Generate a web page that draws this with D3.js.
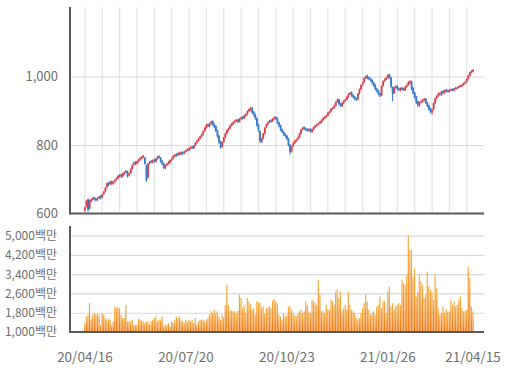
<!DOCTYPE html>
<html>
<head>
<meta charset="utf-8">
<script src="https://cdn.jsdelivr.net/npm/d3@7/dist/d3.min.js"></script>
<style>
  body { margin: 0; background: #fff; }
  text { font-family: "Noto Sans CJK KR", "Noto Sans", sans-serif; fill: #707070; }
</style>
</head>
<body>
<div id="chart"></div>
<script>
// trading days (yy/mm/dd)
var dates = [
  "20/04/16","20/04/17","20/04/20","20/04/21","20/04/22","20/04/23","20/04/24","20/04/27","20/04/28","20/04/29",
  "20/05/04","20/05/06","20/05/07","20/05/08","20/05/11","20/05/12","20/05/13","20/05/14","20/05/15","20/05/18",
  "20/05/19","20/05/20","20/05/21","20/05/22","20/05/25","20/05/26","20/05/27","20/05/28","20/05/29",
  "20/06/01","20/06/02","20/06/03","20/06/04","20/06/05","20/06/08","20/06/09","20/06/10","20/06/11","20/06/12",
  "20/06/15","20/06/16","20/06/17","20/06/18","20/06/19","20/06/22","20/06/23","20/06/24","20/06/25","20/06/26",
  "20/06/29","20/06/30",
  "20/07/01","20/07/02","20/07/03","20/07/06","20/07/07","20/07/08","20/07/09","20/07/10","20/07/13","20/07/14",
  "20/07/15","20/07/16","20/07/17","20/07/20","20/07/21","20/07/22","20/07/23","20/07/24","20/07/27","20/07/28",
  "20/07/29","20/07/30","20/07/31",
  "20/08/03","20/08/04","20/08/05","20/08/06","20/08/07","20/08/10","20/08/11","20/08/12","20/08/13","20/08/14",
  "20/08/18","20/08/19","20/08/20","20/08/21","20/08/24","20/08/25","20/08/26","20/08/27","20/08/28","20/08/31",
  "20/09/01","20/09/02","20/09/03","20/09/04","20/09/07","20/09/08","20/09/09","20/09/10","20/09/11","20/09/14",
  "20/09/15","20/09/16","20/09/17","20/09/18","20/09/21","20/09/22","20/09/23","20/09/24","20/09/25","20/09/28",
  "20/09/29",
  "20/10/05","20/10/06","20/10/07","20/10/08","20/10/12","20/10/13","20/10/14","20/10/15","20/10/16","20/10/19",
  "20/10/20","20/10/21","20/10/22","20/10/23","20/10/26","20/10/27","20/10/28","20/10/29","20/10/30",
  "20/11/02","20/11/03","20/11/04","20/11/05","20/11/06","20/11/09","20/11/10","20/11/11","20/11/12","20/11/13",
  "20/11/16","20/11/17","20/11/18","20/11/19","20/11/20","20/11/23","20/11/24","20/11/25","20/11/26","20/11/27",
  "20/11/30",
  "20/12/01","20/12/02","20/12/03","20/12/04","20/12/07","20/12/08","20/12/09","20/12/10","20/12/11","20/12/14",
  "20/12/15","20/12/16","20/12/17","20/12/18","20/12/21","20/12/22","20/12/23","20/12/24","20/12/28","20/12/29",
  "20/12/30",
  "21/01/04","21/01/05","21/01/06","21/01/07","21/01/08","21/01/11","21/01/12","21/01/13","21/01/14","21/01/15",
  "21/01/18","21/01/19","21/01/20","21/01/21","21/01/22","21/01/25","21/01/26","21/01/27","21/01/28","21/01/29",
  "21/02/01","21/02/02","21/02/03","21/02/04","21/02/05","21/02/08","21/02/09","21/02/10","21/02/15","21/02/16",
  "21/02/17","21/02/18","21/02/19","21/02/22","21/02/23","21/02/24","21/02/25","21/02/26",
  "21/03/02","21/03/03","21/03/04","21/03/05","21/03/08","21/03/09","21/03/10","21/03/11","21/03/12","21/03/15",
  "21/03/16","21/03/17","21/03/18","21/03/19","21/03/22","21/03/23","21/03/24","21/03/25","21/03/26","21/03/29",
  "21/03/30","21/03/31",
  "21/04/01","21/04/02","21/04/05","21/04/06","21/04/07","21/04/08","21/04/09","21/04/12","21/04/13","21/04/14",
  "21/04/15"
];

var opens = [
  609,620,641,615,636,643,647,643,640,646, 652,648,658,665,677,690,686,694,687,694,
  699,704,709,714,709,716,724,723,712,718, 731,743,750,746,753,758,761,766,763,741,
  705,748,753,750,757,752,761,768,763,753, 746,733,743,746,749,757,761,767,773,771,
  777,773,779,776,781,787,785,791,795,791, 799,807,813,819,825,831,842,851,860,855,
  863,870,861,855,843,827,810,795,809,823, 834,845,849,857,861,867,871,874,869,877,
  882,879,887,890,899,903,909,897,889,878, 860,840,809,819,834,852,861,867,872,870,
  877,882,878,866,857,846,839,831,827,819, 801,782,797,806,813,817,823,834,846,852,
  848,846,842,847,839,846,853,857,861,864, 867,873,879,884,886,894,898,907,909,916,
  926,933,921,914,923,929,933,941,949,954, 946,941,936,934,951,963,977,984,996,1002,
  997,994,990,983,976,965,959,951,944,973, 987,993,997,1006,997,969,952,969,972,965,
  960,967,964,961,971,976,981,986,967,953, 942,928,915,925,928,931,935,925,916,907,
  896,905,923,937,944,951,947,957,953,961, 959,956,961,963,960,967,965,969,972,974,
  976,981,985,994,1004,1013,1015
];

var highs = [
  620,640,644,641,644,648,649,646,647,652, 654,658,666,677,690,693,695,697,695,700,
  706,712,715,717,719,723,727,725,719,732, 743,751,753,754,759,764,768,771,765,742,
  747,753,756,758,760,762,768,770,765,756, 748,743,748,753,758,763,770,774,776,779,
  780,781,782,783,787,790,793,796,798,800, 809,815,821,827,833,843,853,861,863,865,
  871,872,864,857,845,829,812,810,824,836, 846,851,859,865,869,873,876,877,879,883,
  885,889,892,901,907,910,911,899,891,880, 862,842,821,835,852,863,869,873,875,879,
  883,884,880,868,859,848,841,834,829,821, 803,798,808,815,818,825,836,847,853,854,
  851,849,849,849,848,855,859,863,866,871, 875,881,885,888,896,900,908,911,918,928,
  935,935,923,925,931,935,943,951,955,956, 948,943,938,952,965,977,985,998,1004,1005,
  1000,997,992,985,978,967,961,953,974,988, 995,999,1007,1008,999,971,971,974,975,968,
  968,970,967,972,978,986,989,988,969,955, 944,930,927,931,934,937,937,927,918,909,
  906,924,938,946,953,954,958,960,962,964, 962,963,965,966,967,970,971,974,976,978,
  983,986,995,1005,1014,1019,1022
];

var lows = [
  606,618,605,612,633,639,638,635,637,642, 641,646,655,663,674,680,683,684,684,690,
  696,701,706,704,706,713,718,705,708,715, 728,740,741,743,749,754,758,762,742,692,
  703,743,747,746,749,749,757,760,749,741, 729,730,739,743,746,753,758,764,766,768,
  769,770,771,773,778,782,782,788,788,788, 796,804,810,816,822,828,839,848,852,852,
  860,856,849,838,821,803,789,792,806,820, 831,841,846,854,858,864,868,864,866,874,
  874,876,883,887,896,900,891,884,874,854, 838,806,806,816,831,849,858,864,865,867,
  874,873,861,852,841,834,826,822,814,796, 772,778,794,803,809,814,820,831,843,843,
  841,839,839,836,836,843,850,854,858,861, 864,870,876,880,883,891,895,903,906,913,
  923,916,911,911,920,926,930,938,946,941, 936,931,928,931,948,960,974,981,993,992,
  989,985,977,970,959,953,945,940,942,970, 984,990,994,993,966,928,949,965,960,957,
  957,959,958,958,968,973,978,960,947,935, 920,912,912,921,924,927,920,911,900,893,
  889,902,920,934,941,944,944,948,950,954, 953,953,958,957,957,962,962,966,969,971,
  973,978,982,991,1001,1010,1012
];

var closes = [
  618,638,612,639,641,645,642,639,644,649, 645,656,663,675,688,684,692,688,692,697,
  703,710,712,708,717,720,722,710,716,730, 741,748,745,752,756,762,766,768,745,697,
  746,749,751,755,753,760,766,764,752,745, 733,741,745,750,756,760,768,771,770,776,
  772,778,775,780,784,786,790,793,792,798, 806,812,818,824,830,840,850,858,856,862,
  868,860,853,842,826,808,793,808,822,833, 843,848,856,862,866,870,873,868,876,880,
  878,886,889,898,904,907,895,888,878,858, 842,812,818,833,850,860,866,870,869,876,
  880,877,865,856,845,838,830,826,818,800, 780,796,805,812,815,822,833,845,850,847,
  845,843,846,840,845,852,856,860,863,868, 872,878,882,885,893,897,905,908,915,925,
  932,920,915,922,928,932,940,948,952,945, 940,935,932,950,962,975,982,995,1000,996,
  993,989,982,975,964,958,950,945,972,986, 992,996,1004,998,971,950,968,970,964,961,
  965,963,962,970,975,983,985,965,952,940, 925,917,924,927,930,934,924,915,905,898,
  903,922,936,943,950,948,956,952,960,958, 957,960,962,961,965,966,968,971,973,975,
  980,983,993,1003,1012,1016,1019
];

// volume, 백만
var volumes = [
  1370,1650,1720,2200,1510,1720,1790,1750,1750,1720, 1300,1790,1720,1580,1510,1550,1510,1300,1440,2060,
  1990,2020,1990,1720,1580,1580,2130,1440,1440,1440, 1510,1300,1300,1300,1550,1510,1480,1440,1370,1440,
  1440,1300,1440,1510,1580,1650,1440,1510,1510,1650, 1230,1300,1300,1370,1230,1440,1370,1510,1650,1580,
  1650,1510,1440,1380,1510,1440,1510,1440,1510,1370, 1580,1300,1440,1510,1510,1510,1440,1510,1580,1720,
  1860,1790,1920,1790,1860,1650,1510,1720,1600,2130, 2960,2130,1920,1880,1860,1860,1790,1880,2550,2410,
  1990,2130,1790,2410,2270,2150,1920,1990,1720,2270, 2240,2200,1990,2060,1790,1990,2020,2060,1990,2300,
  2380,2270,2200,
  1720,1650,1510,1790,1650,1720,2060,2060,1920,1790,1700,
  1650,1750,1860,1920,1790,1860,2270,2130,1860,1790,
  2340,2270,2200,2130,3170,2550,1860,1860,1790,2130,1950,
  1920,2340,2270,2130,2680,2750,2400,2680,1860,1990,2130,
  1920,2680,2130,1920,1860,1790,1580,1510,1580,1790,
  1990,2200,2550,2270,1920,1720,1790,1880,1720,2060,2130,
  2480,1990,2270,2300,1790,2680,2890,2060,2200,1920,2060,
  2130,2200,2130,3170,3030,2960,3370,5030,4410,4410,
  3300,3650,2480,2680,3370,3100,2960,2410,2550,3510,2890,
  2750,2680,2340,3370,2820,1990,1720,1790,2060,1790,1950,
  1860,1860,2340,2130,2270,2060,2130,2340,2480,1990,
  1860,1860,1920,3720,3240,2060,1860
];

var priceTicks = [600, 800, 1000];
var volumeTicks = [1000, 1800, 2600, 3400, 4200, 5000];
var dateTicks = ["20/04/16", "20/07/20", "20/10/23", "21/01/26", "21/04/15"];

var upColor = "#df3f4c";
var downColor = "#3a7ccc";

var svgWidth = 512;
var svgHeight = 381;

var plotLeft = 70;
var plotRight = 484;
var priceTop = 7, priceBottom = 213.5;
var volTop = 226, volBottom = 332;

var svg = d3.select('#chart').append('svg')
    .attr('width', svgWidth)
    .attr('height', svgHeight);

var defs = svg.append('defs');
var grad = defs.append('linearGradient')
    .attr('id', 'volGrad')
    .attr('x1', 0).attr('y1', 0).attr('x2', 0).attr('y2', 1);
grad.append('stop').attr('offset', '0%').attr('stop-color', '#f7b146');
grad.append('stop').attr('offset', '100%').attr('stop-color', '#ee7410');

var x = d3.scaleBand()
    .domain(dates)
    .range([84.2, 473.8])
    .paddingInner(0.1);

var yPrice = d3.scaleLinear()
    .domain([600, 1200])
    .range([priceBottom, 8]);

var yVol = d3.scaleLinear()
    .domain([1000, 5400])
    .range([volBottom, volTop]);

var cx = function(d) { return x(d) + x.bandwidth() / 2; };

// vertical grid, every 11 sessions
var gridDates = dates.filter(function(d, i) { return i % 11 === 0; });
svg.append('g')
    .attr('transform', 'translate(0,' + priceBottom + ')')
    .call(d3.axisBottom(x).tickValues(gridDates).tickSize(-(priceBottom - priceTop)).tickFormat(''))
    .call(function(g) {
        g.select('.domain').remove();
        g.selectAll('line').attr('stroke', '#e4e4e4').attr('stroke-width', 1.2);
    });

// horizontal price grid
svg.append('g')
    .attr('transform', 'translate(' + plotLeft + ',0)')
    .call(d3.axisLeft(yPrice).tickValues(priceTicks.slice(1)).tickSize(-(plotRight - plotLeft)).tickFormat(''))
    .call(function(g) {
        g.select('.domain').remove();
        g.selectAll('line').attr('stroke', '#d9d9d9').attr('stroke-width', 1.2);
    });

// price labels
svg.append('g')
    .attr('transform', 'translate(' + plotLeft + ',0)')
    .call(d3.axisLeft(yPrice).tickValues(priceTicks).tickSize(0).tickPadding(12).tickFormat(d3.format(',')))
    .call(function(g) {
        g.select('.domain').remove();
        g.selectAll('text').style('font-size', '13px').attr('fill', '#707070');
    });

// candles
var candles = svg.append('g').selectAll('g')
    .data(dates)
    .enter()
    .append('g');

candles.append('line')
    .attr('x1', function(d) { return cx(d); })
    .attr('x2', function(d) { return cx(d); })
    .attr('y1', function(d, i) { return yPrice(highs[i]); })
    .attr('y2', function(d, i) { return yPrice(lows[i]); })
    .attr('stroke', function(d, i) { return closes[i] >= opens[i] ? upColor : downColor; })
    .attr('stroke-width', 1.1);

candles.append('rect')
    .attr('x', function(d) { return x(d) - 0.2; })
    .attr('width', x.bandwidth() + 0.4)
    .attr('y', function(d, i) { return yPrice(Math.max(opens[i], closes[i])); })
    .attr('height', function(d, i) {
        return Math.max(1.2, Math.abs(yPrice(opens[i]) - yPrice(closes[i])));
    })
    .attr('fill', function(d, i) { return closes[i] >= opens[i] ? upColor : downColor; });

// price frame
svg.append('line')
    .attr('x1', plotLeft).attr('x2', plotLeft)
    .attr('y1', priceTop).attr('y2', priceBottom + 1)
    .attr('stroke', '#5a5a5a').attr('stroke-width', 2);
svg.append('line')
    .attr('x1', plotLeft).attr('x2', plotRight)
    .attr('y1', priceBottom).attr('y2', priceBottom)
    .attr('stroke', '#5a5a5a').attr('stroke-width', 2);

// volume grid
svg.append('g')
    .attr('transform', 'translate(' + plotLeft + ',0)')
    .call(d3.axisLeft(yVol).tickValues(volumeTicks.slice(1)).tickSize(-(plotRight - plotLeft)).tickFormat(''))
    .call(function(g) {
        g.select('.domain').remove();
        g.selectAll('line').attr('stroke', '#d9d9d9').attr('stroke-width', 1.2);
    });

// volume labels
svg.append('g')
    .attr('transform', 'translate(' + plotLeft + ',0)')
    .call(d3.axisLeft(yVol).tickValues(volumeTicks).tickSize(0).tickPadding(13)
        .tickFormat(function(d) { return d3.format(',')(d) + '백만'; }))
    .call(function(g) {
        g.select('.domain').remove();
        g.selectAll('text').style('font-size', '12px').attr('fill', '#707070');
    });

// volume bars
svg.append('g').selectAll('rect')
    .data(dates)
    .enter()
    .append('rect')
    .attr('x', function(d) { return x(d); })
    .attr('width', x.bandwidth() * 0.85)
    .attr('y', function(d, i) { return yVol(volumes[i]); })
    .attr('height', function(d, i) { return volBottom - yVol(volumes[i]); })
    .attr('fill', 'url(#volGrad)');

// volume frame
svg.append('line')
    .attr('x1', plotLeft).attr('x2', plotLeft)
    .attr('y1', volTop).attr('y2', volBottom + 1)
    .attr('stroke', '#5a5a5a').attr('stroke-width', 2);
svg.append('line')
    .attr('x1', plotLeft).attr('x2', plotRight)
    .attr('y1', volBottom).attr('y2', volBottom)
    .attr('stroke', '#5a5a5a').attr('stroke-width', 2);

// date labels
svg.append('g').selectAll('text')
    .data(dateTicks)
    .enter()
    .append('text')
    .attr('x', function(d) { return cx(d); })
    .attr('y', 356)
    .attr('dominant-baseline', 'central')
    .attr('text-anchor', 'middle')
    .style('font-size', '13.5px')
    .text(function(d) { return d; });
</script>
</body>
</html>
